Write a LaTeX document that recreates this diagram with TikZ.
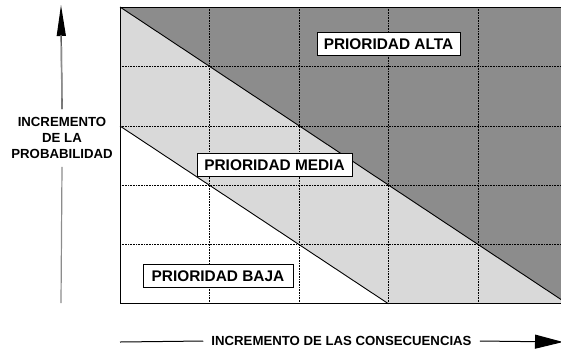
\documentclass[tikz,border=0pt]{standalone}
\usepackage{fontspec}
\setmainfont{Liberation Sans}
\usetikzlibrary{arrows.meta,calc}
\definecolor{darkzone}{HTML}{8C8C8C}
\definecolor{lightzone}{HTML}{D9D9D9}
\begin{document}
\begin{tikzpicture}[x=1pt,y=-1pt,
  lbl/.style={draw=black, line width=0.9pt, fill=white,
    font=\bfseries\fontsize{15.4}{18}\selectfont,
    text height=11pt, text depth=0pt, inner ysep=6pt, inner xsep=0pt},
  axlbl/.style={font=\bfseries\fontsize{13.2}{16}\selectfont, align=center},
  gridline/.style={densely dotted, line width=0.6pt, black},
  vaxisline/.style={line width=1.2pt, black!45},
  haxisline/.style={line width=1pt, black},
  vhead/.style={-{Triangle[length=31pt,width=9pt]}},
  hhead/.style={-{Triangle[length=28pt,width=14pt]}},
  border/.style={line width=0.9pt, black}]
\useasboundingbox (0,0) rectangle (561,349);
\begin{scope}
  \clip (0,0) rectangle (561,349);
  \fill[lightzone] (120,7) rectangle (567.5,303.8);
  \fill[darkzone] (120,7) -- (567.5,7) -- (567.5,303.8) -- cycle;
  \fill[white] (120,126) -- (388.5,303.8) -- (120,303.8) -- cycle;
  \foreach \x in {209.5,299,388.5,478}
    \draw[gridline] (\x,7) -- (\x,303.8);
  \foreach \y in {66.5,126,185.5,244.5}
    \draw[gridline] (120,\y) -- (567.5,\y);
  \draw[border] (120,7) -- (567.5,303.8);
  \draw[border] (120,126) -- (388.5,303.8);
  \draw[border] (120,7) rectangle (567.5,303.8);
\end{scope}
\node[lbl, minimum width=143pt] (alta) at (388.5,43.5) {PRIORIDAD ALTA};
\node[lbl, minimum width=155pt] (media) at (274.5,164.5) {PRIORIDAD MEDIA};
\node[lbl, minimum width=150pt] (baja) at (218,275.5) {PRIORIDAD BAJA};
% vertical axis
\node[axlbl, inner ysep=8pt] (ylab) at (62,138) {INCREMENTO\\DE LA\\PROBABILIDAD};
\coordinate (ytop) at (61,5);
\coordinate (ybot) at (61,303);
\draw[vaxisline] (ybot) -- (ylab.south);
\draw[line width=1.2pt, black, vhead] (ylab.north) -- (ytop);
\draw[vaxisline] (ylab.north) -- ($(ytop)+(0,30)$);
% horizontal axis
\node[axlbl, inner xsep=8pt] (xlab) at (341.5,341) {INCREMENTO DE LAS CONSECUENCIAS};
\coordinate (xleft) at (120,342);
\coordinate (xright) at (563,342);
\draw[haxisline] (xleft) -- (xlab.west);
\draw[haxisline, hhead] (xlab.east) -- (xright);
\end{tikzpicture}
\end{document}
